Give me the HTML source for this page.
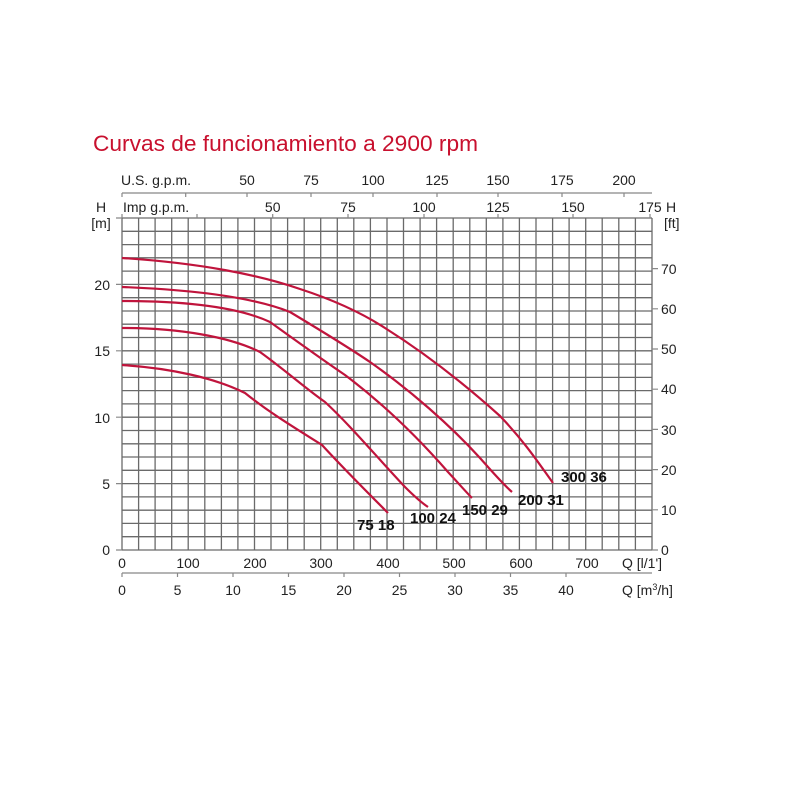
<!DOCTYPE html>
<html><head><meta charset="utf-8"><style>
html,body{margin:0;padding:0;background:#fff;}
svg{display:block;}
text{font-family:"Liberation Sans",sans-serif;fill:#222;}
</style></head><body>
<svg width="800" height="800" viewBox="0 0 800 800" xmlns="http://www.w3.org/2000/svg">
<text x="93" y="151" font-size="22" style="fill:#c8102e" textLength="385" lengthAdjust="spacingAndGlyphs">Curvas de funcionamiento a 2900 rpm</text>
<g stroke="#6a6a6a" stroke-width="1.3" fill="none">
<path d="M122,218V550M138.6,218V550M155.1,218V550M171.7,218V550M188.2,218V550M204.8,218V550M221.4,218V550M237.9,218V550M254.5,218V550M271,218V550M287.6,218V550M304.2,218V550M320.7,218V550M337.3,218V550M353.8,218V550M370.4,218V550M387,218V550M403.5,218V550M420.1,218V550M436.6,218V550M453.2,218V550M469.8,218V550M486.3,218V550M502.9,218V550M519.4,218V550M536,218V550M552.6,218V550M569.1,218V550M585.7,218V550M602.2,218V550M618.8,218V550M635.4,218V550M652,218V550"/>
<path d="M122,218H652M122,231.3H652M122,244.6H652M122,257.8H652M122,271.1H652M122,284.4H652M122,297.7H652M122,311H652M122,324.2H652M122,337.5H652M122,350.8H652M122,364.1H652M122,377.4H652M122,390.6H652M122,403.9H652M122,417.2H652M122,430.5H652M122,443.8H652M122,457H652M122,470.3H652M122,483.6H652M122,496.9H652M122,510.2H652M122,523.4H652M122,536.7H652M122,550H652"/>
</g>
<g stroke="#888" stroke-width="1.2" fill="none">
<path d="M122,193H652M122,193v4M185.7,193v4M247,193v4M311,193v4M373,193v4M437,193v4M498,193v4M562,193v4M624,193v4"/>
<path d="M122,218v-4M197,218v-4M272.7,218v-4M348,218v-4M424,218v-4M498,218v-4M573,218v-4M650,218v-4"/>
<path d="M116,550h6M116,483.6h6M116,417.2h6M116,350.8h6M116,284.4h6M116,218h6"/>
<path d="M652,550h6M652,509.8h6M652,469.6h6M652,429.4h6M652,389.2h6M652,349h6M652,308.8h6M652,268.6h6"/>
<path d="M122,573H652M122,573v4M177.5,573v4M233,573v4M288.5,573v4M344,573v4M399.5,573v4M455,573v4M510.5,573v4M566,573v4"/>
</g>
<g font-size="14">
<text x="121" y="185">U.S. g.p.m.</text>
<g text-anchor="middle">
<text x="247" y="185">50</text><text x="311" y="185">75</text><text x="373" y="185">100</text><text x="437" y="185">125</text><text x="498" y="185">150</text><text x="562" y="185">175</text><text x="624" y="185">200</text>
<text x="272.7" y="212">50</text><text x="348" y="212">75</text><text x="424" y="212">100</text><text x="498" y="212">125</text><text x="573" y="212">150</text><text x="650" y="212">175</text>
<text x="101" y="212">H</text><text x="101" y="228">[m]</text>
<text x="122" y="568">0</text><text x="188" y="568">100</text><text x="255" y="568">200</text><text x="321" y="568">300</text><text x="388" y="568">400</text><text x="454" y="568">500</text><text x="521" y="568">600</text><text x="587" y="568">700</text>
<text x="122" y="595">0</text><text x="177.5" y="595">5</text><text x="233" y="595">10</text><text x="288.5" y="595">15</text><text x="344" y="595">20</text><text x="399.5" y="595">25</text><text x="455" y="595">30</text><text x="510.5" y="595">35</text><text x="566" y="595">40</text>
</g>
<text x="123" y="212">Imp g.p.m.</text>
<g text-anchor="end">
<text x="110" y="555">0</text><text x="110" y="489">5</text><text x="110" y="423">10</text><text x="110" y="356">15</text><text x="110" y="290">20</text>
</g>
<text x="666" y="212">H</text><text x="664" y="228">[ft]</text>
<g>
<text x="661" y="555">0</text><text x="661" y="515">10</text><text x="661" y="475">20</text><text x="661" y="435">30</text><text x="661" y="394">40</text><text x="661" y="354">50</text><text x="661" y="314">60</text><text x="661" y="274">70</text>
</g>
<text x="622" y="568">Q [l/1']</text>
<text x="622" y="595">Q [m<tspan font-size="9" dy="-5">3</tspan><tspan dy="5">/h]</tspan></text>
</g>
<g stroke="#c0143c" stroke-width="2.2" fill="none" stroke-linejoin="round">
<path d="M122,258C200,263 260,275 300,289C340,302 365,315 385,328C420,350 460,380 500,416C525,442 540,465 553,483"/>
<path d="M122,287C200,290 255,298 290,312C320,330 345,345 370,362C410,390 450,425 480,458C495,475 505,486 512,492"/>
<path d="M122,301C190,301 240,308 270,322C295,340 320,358 345,375C385,405 420,440 448,472C460,485 467,493 472,498"/>
<path d="M122,328C180,328 230,337 260,352C285,370 305,388 325,402C350,425 375,455 405,487C415,497 422,503 428,507"/>
<path d="M122,365C170,368 215,378 245,393C270,413 295,428 322,445C345,470 365,490 388,513"/>
</g>
<g font-size="15" font-weight="bold">
<text x="561" y="482" style="fill:#111">300 36</text>
<text x="518" y="505" style="fill:#111">200 31</text>
<text x="462" y="515" style="fill:#111">150 29</text>
<text x="410" y="523" style="fill:#111">100 24</text>
<text x="357" y="530" style="fill:#111">75 18</text>
</g>
</svg>
</body></html>
